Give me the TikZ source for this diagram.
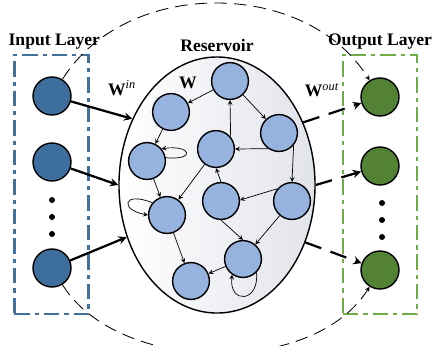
\documentclass[tikz,border=0pt]{standalone}
\usepackage{fontspec}
\setmainfont{Liberation Serif}
\usetikzlibrary{shapes.geometric, arrows, positioning, calc}

\definecolor{inblue}{RGB}{62,110,158}
\definecolor{boxblue}{RGB}{65,113,156}
\definecolor{resblue}{RGB}{149,179,222}
\definecolor{resgray}{RGB}{226,228,235}
\definecolor{outgreen}{RGB}{84,130,53}
\definecolor{boxgreen}{RGB}{112,173,71}

\begin{document}
\begin{tikzpicture}[
    x=0.025cm, y=-0.025cm,
    neuron/.style={circle, draw=black, line width=1pt, minimum size=0.95cm, inner sep=0pt},
    innode/.style={neuron, fill=inblue},
    resnode/.style={neuron, fill=resblue, minimum size=0.92cm},
    outnode/.style={neuron, fill=outgreen},
    layer/.style={rectangle, line width=1.6pt, dash pattern=on 11pt off 3.5pt on 3pt off 3.5pt, minimum width=1.85cm, minimum height=6.475cm, inner sep=0pt},
    title/.style={font=\fontsize{12.5}{14}\selectfont\bfseries},
    wlabel/.style={font=\fontsize{12.5}{14}\selectfont},
    link/.style={line width=0.5pt,->,>=stealth},
    inarrow/.style={line width=1.6pt,->,>=stealth},
    outarrow/.style={line width=1.6pt,->,>=stealth, dash pattern=on 12pt off 7pt},
    guide/.style={line width=0.6pt,->,>=stealth, dash pattern=on 9pt off 5pt}
]
\useasboundingbox (0,0) rectangle (433,345);

% Layers
\node [layer, draw=boxblue] (inbox) at (51.5,184.5) {};
\node [layer, draw=boxgreen] (outbox) at (380,184.5) {};
\node [ellipse, draw=black, line width=1pt, minimum width=4.9cm, minimum height=6.4cm, inner sep=0pt,
       left color=white, right color=resgray] (res) at (217,185) {};

\node [title, above=0pt of inbox, xshift=2pt] (intitle) {Input Layer};
\node [title, above=0pt of res] (restitle) {Reservoir};
\node [title, above=0pt of outbox] (outtitle) {Output Layer};

% Input and output neurons
\node [innode] (in1) at (52,96) {};
\node [innode] (in2) at (52,162) {};
\node [innode] (in3) at (52,268) {};
\node [outnode] (out1) at (380,97) {};
\node [outnode] (out2) at (380,166) {};
\node [outnode] (out3) at (380,270) {};
\foreach \y in {200,217,234} \fill (52,\y) circle (3);
\foreach \y in {203,220,237} \fill (382,\y) circle (3);

% Reservoir neurons
\node [resnode] (r1) at (230,81) {};
\node [resnode] (r2) at (171,112) {};
\node [resnode] (r3) at (147,161) {};
\node [resnode] (r4) at (216,149) {};
\node [resnode] (r5) at (279,133) {};
\node [resnode] (r6) at (167,215) {};
\node [resnode] (r7) at (221,201) {};
\node [resnode] (r8) at (292,201) {};
\node [resnode] (r9) at (243,259) {};
\node [resnode] (r10) at (191,281) {};

% Weights
\node [wlabel] (win) at (122,88) {\textbf{W}\textsuperscript{\textit{in}}};
\node [wlabel] (wres) at (188,83) {\textbf{W}};
\node [wlabel] (wout) at (322,90) {\textbf{W}\textsuperscript{\textit{out}}};

% Connections
\draw [guide] (in1) to[out=58, in=122, looseness=1] (out1);
\draw [guide] (in3) to[out=-58, in=-122, looseness=0.88] (out3);
\draw [inarrow] (in1) -- (res.142);
\draw [inarrow] (in2) -- (res.180);
\draw [inarrow] (in3) -- (res.-150);
\draw [outarrow] (res.36) -- (out1);
\draw [outarrow] (res.0) -- (out2);
\draw [outarrow] (res.-33) -- (out3);

\draw [link] (r1) -- (r2);
\draw [link] (r2) -- (r3);
\draw [link] (r1) -- (r5);
\draw [link] (r4.40) -- (r1.south);
\draw [link] (r5.235) -- (r4.east);
\draw [link] (r5.-40) -- (r8.north);
\draw [link] (r4) -- (r6);
\draw [link] (r3) -- (r6);
\draw [link] (r7.north) -- (r4.south);
\draw [link] (r8.140) -- (r7.3);
\draw [link] (r8) -- (r9);
\draw [link] (r7.south) -- (r9.north);
\draw [link] (r6) -- (r10);
\draw [link] (r9) -- (r10);
\draw [link] (r3.10) .. controls +(30,3) and +(30,-4) .. (r3.40);
\draw [link] (r6.140) .. controls +(-30,-12) and +(-28,-5) .. (r6.180);
\draw [link] (r9.-45) .. controls +(3,30) and +(-3,30) .. (r9.-125);
\end{tikzpicture}
\end{document}
